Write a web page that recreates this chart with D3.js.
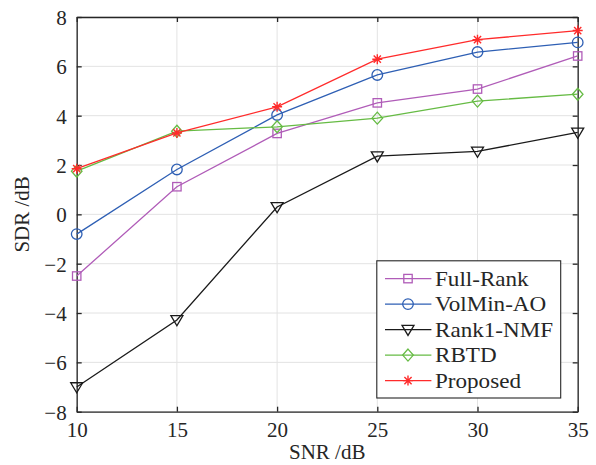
<!DOCTYPE html>
<html><head><meta charset="utf-8">
<script src="https://cdn.jsdelivr.net/npm/d3@7"></script>
</head><body style="margin:0"><svg id="c" width="596" height="465"></svg>
<script>
const snr = [10, 15, 20, 25, 30, 35];
const xTicks = [10, 15, 20, 25, 30, 35];
const yTicks = [-8, -6, -4, -2, 0, 2, 4, 6, 8];
const fullRank = [-2.5, 1.12, 3.28, 4.52, 5.08, 6.42];
const volMinAO = [-0.8, 1.82, 4.03, 5.65, 6.58, 6.97];
const rank1NMF = [-7.0, -4.28, 0.3, 2.36, 2.55, 3.32];
const rbtd = [1.75, 3.37, 3.55, 3.9, 4.59, 4.87];
const proposed = [1.85, 3.3, 4.36, 6.29, 7.08, 7.45];
const seriesNames = ["Full-Rank", "VolMin-AO", "Rank1-NMF", "RBTD", "Proposed"];
const seriesColors = ["#b05cb8", "#2e5fb4", "#1a1a1a", "#66bb44", "#ff2b2b"];
const seriesMarkers = ["square", "circle", "triangle", "diamond", "star"];
const seriesValues = [fullRank, volMinAO, rank1NMF, rbtd, proposed];

const fams = ["Liberation Serif", "Times New Roman", "Tinos", "FreeSerif"];
const FONT = fams.map(f => `"${f}"`).join(", ");
const svg = d3.select("#c");
const L = 76.7, R = 577.7, T = 17, B = 411.7;
const x = d3.scaleLinear().domain([10, 35]).range([L, R]);
const y = d3.scaleLinear().domain([-8, 8]).range([B, T]);
const axisColor = "#262626";

const g = svg.append("g");
g.selectAll(".gx").data(xTicks).enter().append("line")
  .attr("x1", d => x(d)).attr("x2", d => x(d)).attr("y1", T).attr("y2", B)
  .attr("stroke", "#e3e3e3").attr("stroke-width", 1);
g.selectAll(".gy").data(yTicks).enter().append("line")
  .attr("y1", d => y(d)).attr("y2", d => y(d)).attr("x1", L).attr("x2", R)
  .attr("stroke", "#e3e3e3").attr("stroke-width", 1);

function fmt(d){ return d < 0 ? "\u2212" + Math.abs(d) : String(d); }
const tickLen = 5;
const ax = svg.append("g").attr("transform", `translate(0,${B})`)
  .call(d3.axisBottom(x).tickValues(xTicks).tickSizeInner(-tickLen).tickSizeOuter(0).tickPadding(10).tickFormat(fmt));
const axT = svg.append("g").attr("transform", `translate(0,${T})`)
  .call(d3.axisTop(x).tickValues(xTicks).tickSizeInner(-tickLen).tickSizeOuter(0).tickFormat(""));
const ay = svg.append("g").attr("transform", `translate(${L},0)`)
  .call(d3.axisLeft(y).tickValues(yTicks).tickSizeInner(-tickLen).tickSizeOuter(0).tickPadding(10).tickFormat(fmt));
const ayR = svg.append("g").attr("transform", `translate(${R},0)`)
  .call(d3.axisRight(y).tickValues(yTicks).tickSizeInner(-tickLen).tickSizeOuter(0).tickFormat(""));
[ax, axT, ay, ayR].forEach(a => {
  a.attr("font-family", null).attr("font-size", null);
  a.select(".domain").attr("stroke", axisColor).attr("stroke-width", 1.3);
  a.selectAll(".tick line").attr("stroke", axisColor).attr("stroke-width", 1.3);
  a.selectAll("text").attr("fill", axisColor).attr("font-size", 21).style("font-family", FONT);
});
ax.selectAll("text").attr("dy", "0.71em");
ay.selectAll("text").attr("dy", "0.35em");

svg.append("text").attr("x", (L + R) / 2).attr("y", 459).attr("text-anchor", "middle")
  .style("font-family", FONT).attr("font-size", 21).attr("fill", axisColor).text("SNR /dB");
svg.append("text").attr("transform", `translate(29,${(T + B) / 2}) rotate(-90)`)
  .attr("text-anchor", "middle").style("font-family", FONT).attr("font-size", 21).attr("fill", axisColor).text("SDR /dB");

function marker(sel, type, color) {
  if (type === "circle") sel.append("circle").attr("r", 5.3).attr("fill", "none").attr("stroke", color).attr("stroke-width", 1.3);
  else if (type === "square") sel.append("rect").attr("x", -4.2).attr("y", -4.2).attr("width", 8.4).attr("height", 8.4).attr("fill", "none").attr("stroke", color).attr("stroke-width", 1.3);
  else if (type === "triangle") sel.append("path").attr("d", "M-6,-4.3L6,-4.3L0,5.8Z").attr("fill", "none").attr("stroke", color).attr("stroke-width", 1.3);
  else if (type === "diamond") sel.append("path").attr("d", "M0,-6L5.3,0L0,6L-5.3,0Z").attr("fill", "none").attr("stroke", color).attr("stroke-width", 1.3);
  else if (type === "star") sel.append("path").attr("d", "M0,-5V5M-5,0H5M-3.6,-3.6L3.6,3.6M-3.6,3.6L3.6,-3.6").attr("fill", "none").attr("stroke", color).attr("stroke-width", 1.4);
}

const line = d3.line().x((d, i) => x(snr[i])).y(d => y(d));
seriesValues.forEach((vals, k) => {
  const s = svg.append("g");
  s.append("path").attr("d", line(vals)).attr("fill", "none")
    .attr("stroke", seriesColors[k]).attr("stroke-width", 1.3);
  vals.forEach((v, i) => {
    const m = s.append("g").attr("transform", `translate(${x(snr[i])},${y(v)})`);
    marker(m, seriesMarkers[k], seriesColors[k]);
  });
});

const lg = svg.append("g");
lg.append("rect").attr("x", 376.8).attr("y", 260.8).attr("width", 183.9).attr("height", 137.2)
  .attr("fill", "#fff").attr("stroke", axisColor).attr("stroke-width", 1.1);
seriesNames.forEach((n, k) => {
  const yy = 278.6 + k * 25.5;
  lg.append("line").attr("x1", 385).attr("x2", 431.4).attr("y1", yy).attr("y2", yy)
    .attr("stroke", seriesColors[k]).attr("stroke-width", 1.3);
  marker(lg.append("g").attr("transform", `translate(408,${yy})`), seriesMarkers[k], seriesColors[k]);
  lg.append("text").attr("x", 0).attr("y", 0).attr("dy", "0.35em")
    .style("font-family", FONT).attr("font-size", 21).attr("fill", axisColor)
    .attr("transform", `translate(435,${yy}) scale(1.1,1)`).text(n);
});
</script></body></html>
